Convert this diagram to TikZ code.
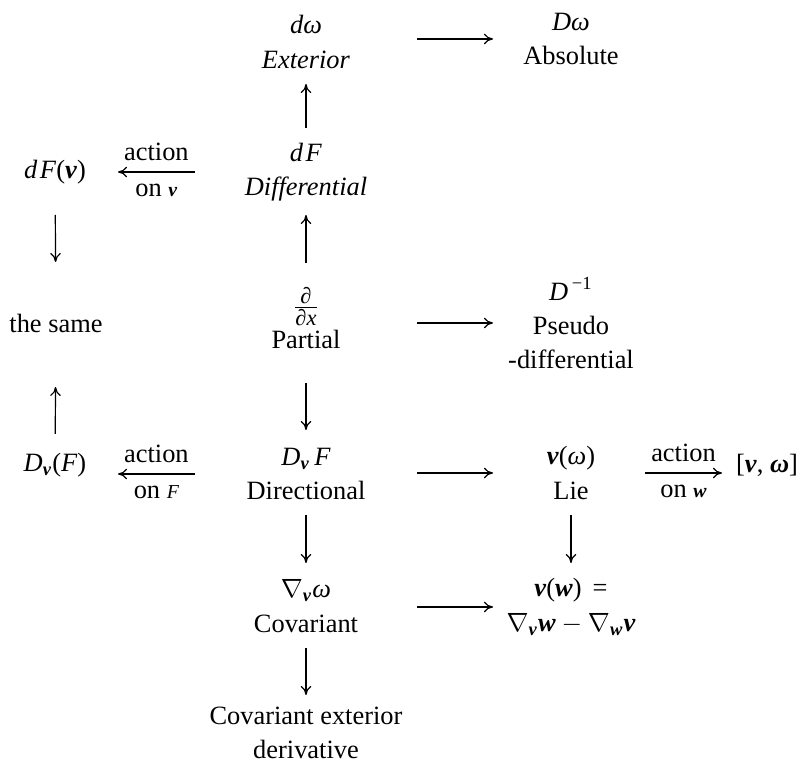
\documentclass[tikz,border=0pt]{standalone}
\usepackage{amsmath}
\usepackage{fontspec}
\setmainfont{Liberation Serif}
\usetikzlibrary{arrows.meta}
\newdimen\pxu \pxu=0.3788pt
% italic and bold italic symbols set in the text font
\newcommand\ti[1]{\text{\itshape #1}}
\newcommand\tb[1]{\text{\bfseries\itshape #1}}
\newcommand\sm[1]{{\fontsize{7.5}{8}\selectfont #1}}
\newcommand\fr[1]{\text{\fontsize{8.5}{9}\selectfont\itshape #1}}
\begin{document}
\begin{tikzpicture}[x=\pxu,y=-\pxu,
  entry/.style={align=center, inner sep=0pt, font=\fontsize{10}{13}\selectfont},
  arr/.style={-{To[length=3.4pt,width=4pt]}, line width=0.45pt},
  lab/.style={font=\fontsize{10}{12}\selectfont, inner sep=0pt, anchor=base}]
\useasboundingbox (0,0) rectangle (800,767);

% entries
\node[entry] (ext)  at (306,42)  {\textit{dω}\\ \textit{Exterior}};
\node[entry] (abs)  at (571,39)  {\textit{Dω}\\ Absolute};
\node[entry] (dif)  at (306,172) {\textit{d\kern1pt F}\\ \textit{Differential}};
\node[entry] (dfv)  at (55,172)  {\textit{d\kern1pt F}(\textbf{\textit{v}})};
\node[entry] (par)  at (306,318) {$\frac{\fr{∂}}{\fr{∂x}}$\\ Partial};
\node[entry] (same) at (56,323)  {the same};
\node[entry] (pse)  at (571,323) {$\ti{D}^{\,\text{−1}}$\\ Pseudo\\ -differential};
\node[entry] (dir)  at (306,474) {$\ti{D}_{\tb{v}}\,\ti{F}$\\ Directional};
\node[entry] (dvf)  at (55,465)  {$\ti{D}_{\tb{v}}$(\textit{F})};
\node[entry] (lie)  at (571,473) {\textbf{\textit{v}}(\textit{ω})\\ Lie};
\node[entry] (brk)  at (767,465) {[\textbf{\textit{v}}, \textbf{\textit{ω}}]};
\node[entry] (cov)  at (306,606) {$\nabla_{\tb{v}}\ti{ω}$\\ Covariant};
\node[entry] (vw)   at (571,607) {\textbf{\textit{v}}(\textbf{\textit{w}})\ \,=\\ $\nabla_{\tb{v}}\tb{w}-\nabla_{\tb{w}}\tb{v}$};
\node[entry] (cext) at (306,733) {Covariant exterior\\ derivative};

% horizontal maps to the right column
\draw[arr, shorten <=111\pxu, shorten >=78\pxu] (abs.center -| ext.center) -- (abs.center);
\draw[arr, shorten <=111\pxu, shorten >=78\pxu] (pse.center -| par.center) -- (pse.center);
\draw[arr, shorten <=111\pxu, shorten >=78\pxu] (lie.center -| dir.center) -- (lie.center);
\draw[arr, shorten <=111\pxu, shorten >=78\pxu] (vw.center -| cov.center) -- (vw.center);

% actions on vectors / functions
\draw[arr, shorten <=111\pxu, shorten >=63\pxu] (dif.center) -- (dif.center -| dfv.center)
  node[lab, pos=.596, yshift=4.2pt] {action}
  node[lab, pos=.596, yshift=-9.1pt] {on \sm{\textbf{\textit{v}}}};
\draw[arr, shorten <=111\pxu, shorten >=63\pxu] (dir.center) -- (dir.center -| dvf.center)
  node[lab, pos=.596, yshift=4.2pt] {action}
  node[lab, pos=.596, yshift=-9.1pt] {on \sm{\textit{F}}};
\draw[arr, shorten <=74\pxu, shorten >=45\pxu] (lie.center) -- (lie.center -| brk.center)
  node[lab, pos=.574, yshift=4.2pt] {action}
  node[lab, pos=.574, yshift=-9.1pt] {on \sm{\textbf{\textit{w}}}};

% vertical maps
\draw[arr, shorten <=44\pxu, shorten >=42\pxu] (dif.center) -- (ext.center);
\draw[arr, shorten <=55\pxu, shorten >=43\pxu] (par.center) -- (dif.center);
\draw[arr, shorten <=65\pxu, shorten >=44\pxu] (par.center) -- (dir.center);
\draw[arr, shorten <=41\pxu, shorten >=43\pxu] (dir.center) -- (cov.center);
\draw[arr, shorten <=42\pxu, shorten >=38\pxu] (cov.center) -- (cext.center);
\draw[arr, shorten <=42\pxu, shorten >=44\pxu] (lie.center) -- (vw.center);
\draw[arr, shorten <=43\pxu, shorten >=61\pxu] (dfv.center) -- (same.center);
\draw[arr, shorten <=31\pxu, shorten >=64\pxu] (dvf.center) -- (same.center);
\end{tikzpicture}
\end{document}
